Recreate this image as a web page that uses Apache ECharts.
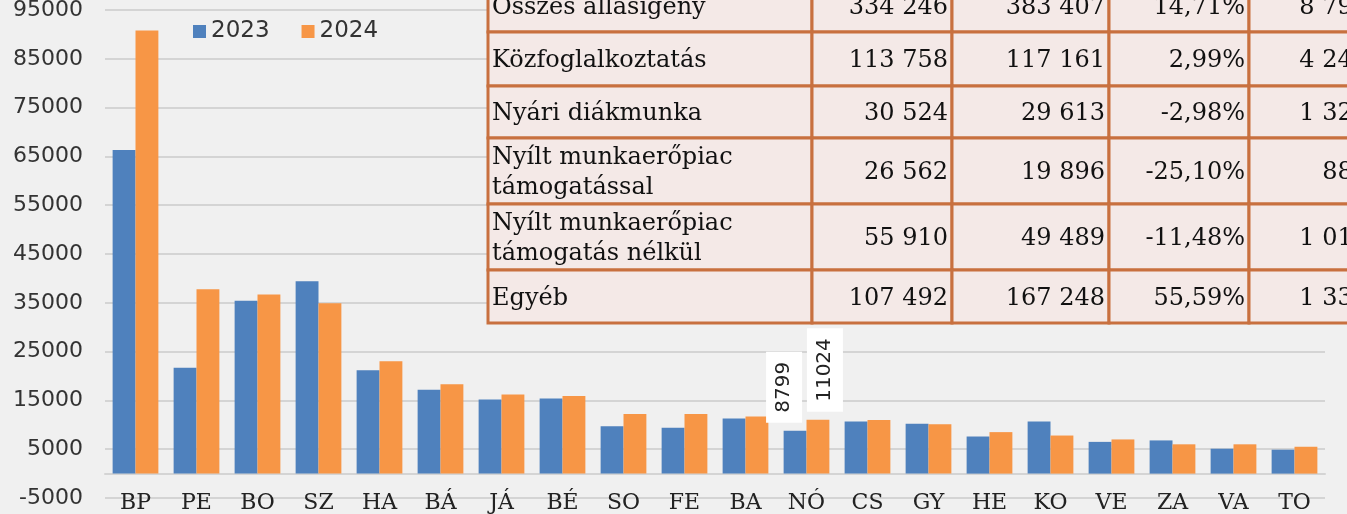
<!DOCTYPE html>
<html>
<head>
<meta charset="utf-8">
<title>Álláskeresők megyénként</title>
<script src="https://cdn.jsdelivr.net/npm/echarts@6/dist/echarts.min.js"></script>
<style>
  html, body { margin: 0; padding: 0; background: #f0f0f0; }
  #chart { width: 1347px; height: 514px; }
</style>
</head>
<body>
<div id="chart"></div>
<script>
// megyék
const counties = ['BP', 'PE', 'BO', 'SZ', 'HA', 'BÁ', 'JÁ', 'BÉ', 'SO', 'FE', 'BA', 'NÓ', 'CS', 'GY', 'HE', 'KO', 'VE', 'ZA', 'VA', 'TO']
const values2023 = [66300, 21700, 35400, 39400, 21200, 17200, 15200, 15400, 9700, 9400, 11300, 8799, 10700, 10200, 7600, 10700, 6500, 6800, 5100, 4900]
const values2024 = [90800, 37800, 36700, 34900, 23000, 18300, 16200, 15900, 12200, 12200, 11700, 11024, 11000, 10100, 8500, 7800, 7000, 6000, 6000, 5500]
const labelledCounties = ['NÓ']

// táblázat
const tableLabels = ['Összes állásigény', 'Közfoglalkoztatás', 'Nyári diákmunka', 'Nyílt munkaerőpiac\ntámogatással', 'Nyílt munkaerőpiac\ntámogatás nélkül', 'Egyéb']
const table2023 = ['334 246', '113 758', '30 524', '26 562', '55 910', '107 492']
const table2024 = ['383 407', '117 161', '29 613', '19 896', '49 489', '167 248']
const tableChange = ['14,71%', '2,99%', '-2,98%', '-25,10%', '-11,48%', '55,59%']
const tableNograd = ['8 799', '4 245', '1 321', '885', '1 012', '1 336']

const sansFont = 'DejaVu Sans'
const serifFont = 'DejaVu Serif'

// csak a kiemelt megye kap feliratot
function withLabels(values, shift) {
  return values.map((v, i) =>
    labelledCounties.includes(counties[i])
      ? { value: v, label: { show: true, offset: [0, shift] } }
      : v
  )
}

const barLabel = {
  show: false,
  position: 'top',
  rotate: 90,
  align: 'left',
  verticalAlign: 'middle',
  distance: 8,
  fontFamily: sansFont,
  fontSize: 20,
  color: '#222',
  backgroundColor: '#fff',
  padding: [8, 10]
}

// táblázat rajzolása graphic elemekkel (előbb a cellák, aztán a szöveg)
const colX = [488, 812, 952, 1109, 1249, 1372]
const rowY = [-20, 32, 86, 138, 204, 270, 323]
const tableCols = [tableLabels, table2023, table2024, tableChange, tableNograd]
const cellRects = []
const cellTexts = []
for (let r = 0; r < tableLabels.length; r++) {
  for (let c = 0; c < tableCols.length; c++) {
    const x0 = colX[c], x1 = colX[c + 1]
    const y0 = rowY[r], y1 = rowY[r + 1]
    cellRects.push({
      type: 'rect',
      z: 100,
      shape: { x: x0, y: y0, width: x1 - x0, height: y1 - y0 },
      style: { fill: '#f4e9e7', stroke: '#c8703f', lineWidth: 3 }
    })
    cellTexts.push({
      type: 'text',
      z: 101,
      style: {
        text: tableCols[c][r],
        x: c === 0 ? x0 + 4 : x1 - 4,
        y: (y0 + y1) / 2 + 2,
        textAlign: c === 0 ? 'left' : 'right',
        textVerticalAlign: 'middle',
        font: '24px "' + serifFont + '"',
        lineHeight: 30,
        fill: '#111'
      }
    })
  }
}

const chart = echarts.init(document.getElementById('chart'))
chart.setOption({
  backgroundColor: '#f0f0f0',
  animation: false,
  grid: { left: 105, right: 22, top: 10, bottom: 16, outerBoundsMode: 'none', containLabel: false },
  legend: {
    left: 193,
    top: 20,
    padding: 0,
    icon: 'rect',
    itemWidth: 13,
    itemHeight: 13,
    itemGap: 32,
    textStyle: { fontFamily: sansFont, fontSize: 23, color: '#333' },
    data: ['2023', '2024']
  },
  xAxis: {
    type: 'category',
    data: counties,
    axisLine: { onZero: true, lineStyle: { color: '#d4d4d4', width: 2 } },
    axisTick: { show: false },
    axisLabel: { fontFamily: serifFont, fontSize: 22, color: '#222', margin: -6, interval: 0 }
  },
  yAxis: {
    type: 'value',
    min: -5000,
    max: 95000,
    interval: 5000,
    axisLine: { show: false },
    axisTick: { show: false },
    axisLabel: {
      // csak a páratlan 5000-esek látszanak (-5000, 5000, 15000 ...)
      formatter: (v) => ((v / 5000) % 2 === 0 ? '' : String(v)),
      fontFamily: sansFont,
      fontSize: 22,
      color: '#333',
      margin: 22
    },
    splitLine: { lineStyle: { color: ['#d4d4d4', 'transparent'], width: 2 } }
  },
  series: [
    {
      name: '2023',
      type: 'bar',
      data: withLabels(values2023, -11),
      itemStyle: { color: '#4f81bd' },
      barGap: '0%',
      barCategoryGap: '25%',
      label: barLabel
    },
    {
      name: '2024',
      type: 'bar',
      data: withLabels(values2024, 7),
      itemStyle: { color: '#f79646' },
      barGap: '0%',
      barCategoryGap: '25%',
      label: barLabel
    }
  ],
  graphic: cellRects.concat(cellTexts)
})
</script>
</body>
</html>
